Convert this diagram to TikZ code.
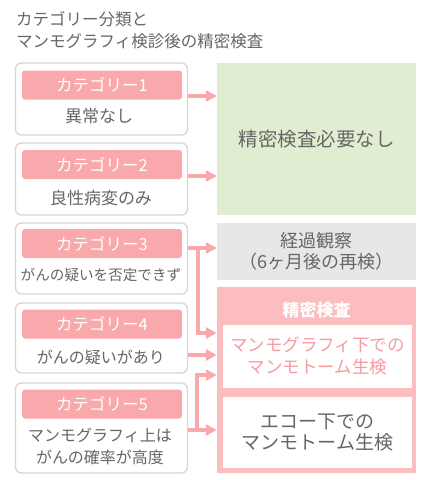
\documentclass[tikz,border=0pt]{standalone}
\usepackage{fontspec}
\setmainfont{Noto Sans CJK JP}
\usetikzlibrary{arrows.meta,positioning}
\definecolor{pinkhead}{HTML}{F9A9AC}
\definecolor{pinkbox}{HTML}{FBBDC0}
\definecolor{pinktext}{HTML}{F59CA0}
\definecolor{greenbox}{HTML}{E1EDD1}
\definecolor{graybox}{HTML}{E7E7E7}
\definecolor{txtgray}{HTML}{666666}
\definecolor{bordergray}{HTML}{D6D6D6}

\begin{document}
\begin{tikzpicture}[x=1pt, y=-1pt,
  catbox/.style={draw=bordergray, line width=1.3pt, rounded corners=6pt,
                 fill=white, minimum width=172pt, inner sep=0pt},
  cathead/.style={fill=pinkhead, rounded corners=3pt, text=white,
                  minimum width=160pt, minimum height=29pt, inner sep=0pt,
                  font=\fontsize{16.5}{16}\selectfont},
  cattext/.style={text=txtgray, align=center,
                  font=\fontsize{16}{22}\selectfont},
  resbox/.style={minimum width=199pt, inner sep=0pt, align=center,
                 text=txtgray, font=\fontsize{18}{20.5}\selectfont},
  inbox/.style={fill=white, minimum width=189pt, inner sep=0pt, align=center,
                font=\fontsize{17.5}{22}\selectfont},
  arr/.style={-{Triangle[length=11pt, width=11pt]}, draw=pinkhead, line width=3.6pt}
]
\useasboundingbox (0,0) rectangle (421,480);

%% Title
\node[anchor=north west, align=left, text=txtgray, inner sep=0pt,
      font=\fontsize{16.5}{22}\selectfont] (title) at (16,11)
  {カテゴリー分類と\\マンモグラフィ検診後の精密検査};

%% Category boxes on the left
\node[catbox, minimum height=72pt] (c1) at (101.5,99)  {};
\node[catbox, minimum height=72pt] (c2) at (101.5,179)  {};
\node[catbox, minimum height=71pt] (c3) at (101.5,258.5) {};
\node[catbox, minimum height=70pt] (c4) at (101.5,338)  {};
\node[catbox, minimum height=90pt] (c5) at (101.5,428)  {};

\node[cathead] (h1) at (102,85)    {カテゴリー1};
\node[cathead] (h2) at (102,164.5) {カテゴリー2};
\node[cathead] (h3) at (102,243.5) {カテゴリー3};
\node[cathead] (h4) at (102,324)   {カテゴリー4};
\node[cathead] (h5) at (102,404)   {カテゴリー5};

\node[cattext, font=\fontsize{17}{22}\selectfont] (t1) at (99,116) {異常なし};
\node[cattext, font=\fontsize{17}{22}\selectfont] (t2) at (101,198) {良性病変のみ};
\node[cattext, font=\fontsize{14.6}{22}\selectfont] (t3) at (101,275) {がんの疑いを否定できず};
\node[cattext] (t4) at (101,357) {がんの疑いがあり};
\node[cattext] (t5) at (100,446) {マンモグラフィ上は\\がんの確率が高度};

%% Results on the right
\node[resbox, fill=greenbox, minimum height=152pt,
      font=\fontsize{19.5}{20}\selectfont] (none) at (316.5,139)
  {精密検査必要なし};
\node[resbox, fill=graybox, minimum height=57pt] (watch) at (316.5,251.5)
  {経過観察\\（6ヶ月後の再検）};
\node[resbox, fill=pinkbox, minimum height=186pt] (exam) at (316.5,380) {};
\node[text=white, font=\bfseries\fontsize{17}{17}\selectfont] (examt) at (316.5,310) {精密検査};
\node[inbox, minimum height=63pt, text=pinktext] (mmg) at (317.5,356)
  {マンモグラフィ下での\\マンモトーム生検};
\node[inbox, minimum height=71pt, text=txtgray,
      font=\fontsize{19}{21.5}\selectfont] (echo) at (317.5,432.5)
  {エコー下での\\マンモトーム生検};

%% Arrows
\coordinate (j3) at (198,248);
\coordinate (j5) at (197,430);
\draw[arr] ([yshift=3pt]c1.east) -- ([yshift=3pt]c1.east -| none.west);
\draw[arr] ([yshift=3pt]c2.east) -- ([yshift=3pt]c2.east -| none.west);
\draw[arr] (c3.east |- j3) -- (j3 -| watch.west);
\draw[arr] (j3) -- (j3 |- 0,333) -- (exam.west |- 0,333);
\draw[arr] (c4.east |- 0,355) -- (exam.west |- 0,355);
\draw[arr] (c5.east |- j5) -- (j5 -| exam.west);
\draw[arr] (j5) -- (j5 |- 0,375) -- (exam.west |- 0,375);
\end{tikzpicture}
\end{document}
